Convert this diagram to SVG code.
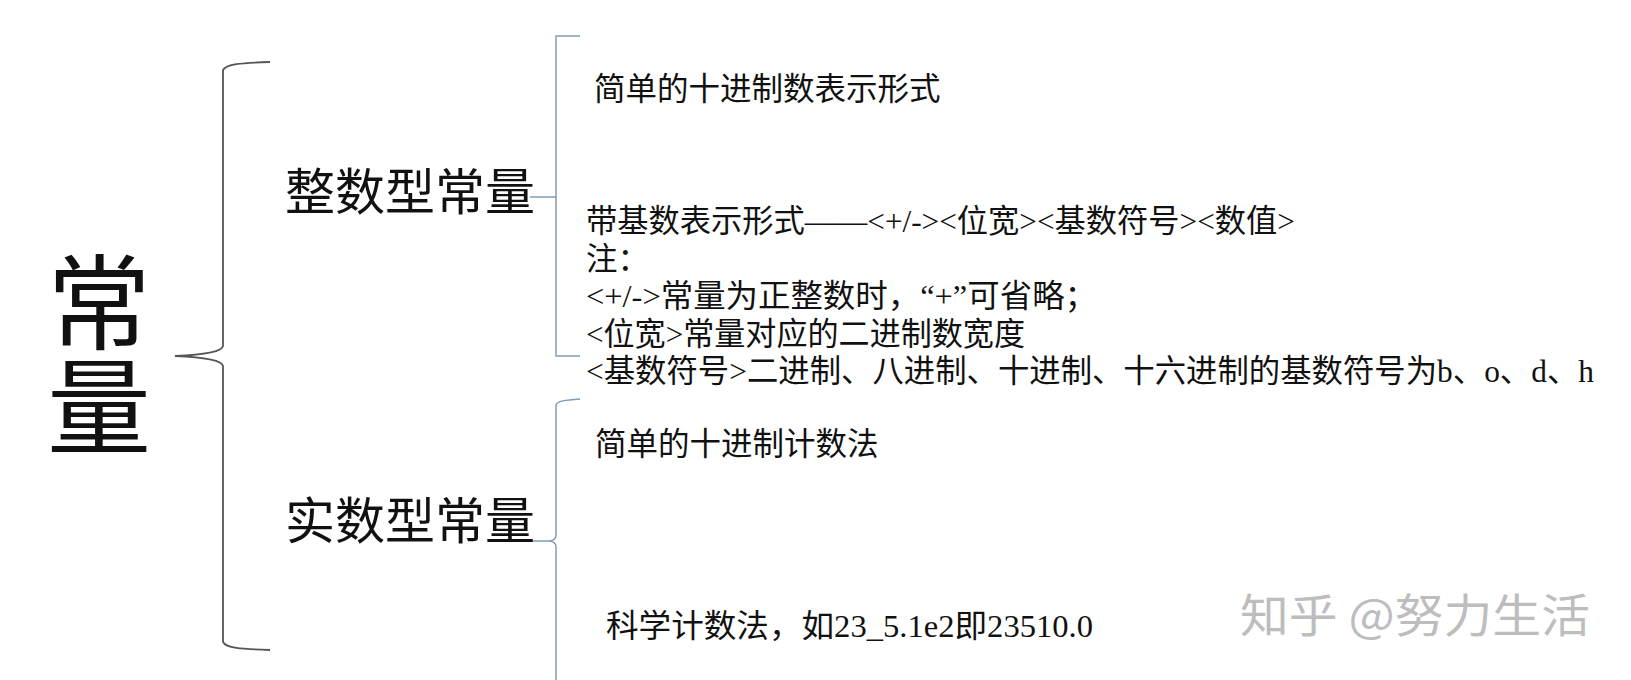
<svg xmlns="http://www.w3.org/2000/svg" width="1631" height="680" viewBox="0 0 1631 680">
<style>
.t{font-family:"Liberation Serif","Noto Sans CJK SC",serif;fill:#111;}
.s{font-size:31.5px;}
.m{font-size:50px;}
.b{font-family:"Noto Sans CJK SC",sans-serif;font-size:104px;fill:#111;writing-mode:vertical-rl;}
.brace{fill:none;stroke:#555;stroke-width:1.8;}
.blue{fill:none;stroke:#7d9cbb;stroke-width:1.5;}
.wm{font-family:"Noto Sans CJK SC",sans-serif;font-size:46px;fill:#bdbdbd;}
</style>
<rect width="1631" height="680" fill="#fff"/>
<g id="connectors">
<path class="brace" d="M270,62 C240,63 226,64 223,70 L223,346 C222,352 200,355 175,356 C200,357 222,360 223,366 L223,642 C226,648 240,649 270,650"/>
<path class="blue" d="M580,36 L556,36 L556,356 L580,356 M530,197 L556,197"/>
<path class="blue" d="M580,399 C565,400 557,401 556,405 L556,535 Q556,541 548,541 L532,541 M548,541 Q556,541 556,547 L556,680"/>
</g>
<g id="root"><text class="b" x="99" y="250" writing-mode="tb">常量</text></g>
<g id="int"><text class="t m" x="285" y="210">整数型常量</text></g>
<g id="real"><text class="t m" x="285" y="539">实数型常量</text></g>
<g id="int-dec"><text class="t s" x="594" y="100">简单的十进制数表示形式</text></g>
<g id="int-base">
<text class="t s" x="586" y="232" textLength="709" lengthAdjust="spacingAndGlyphs">带基数表示形式——&lt;+/-&gt;&lt;位宽&gt;&lt;基数符号&gt;&lt;数值&gt;</text>
<text class="t s" x="586" y="269.5">注：</text>
<text class="t s" x="586" y="307" textLength="511" lengthAdjust="spacingAndGlyphs">&lt;+/-&gt;常量为正整数时，“+”可省略；</text>
<text class="t s" x="586" y="344.5" textLength="439" lengthAdjust="spacingAndGlyphs">&lt;位宽&gt;常量对应的二进制数宽度</text>
<text class="t s" x="586" y="382" textLength="1008" lengthAdjust="spacingAndGlyphs">&lt;基数符号&gt;二进制、八进制、十进制、十六进制的基数符号为b、o、d、h</text>
</g>
<g id="real-dec"><text class="t s" x="595" y="455">简单的十进制计数法</text></g>
<g id="real-sci"><text class="t s" x="606" y="637" textLength="487" lengthAdjust="spacingAndGlyphs">科学计数法，如23_5.1e2即23510.0</text></g>
<g id="watermark"><text class="wm" x="1240" y="632" textLength="350" lengthAdjust="spacingAndGlyphs">知乎 @努力生活</text></g>
</svg>
